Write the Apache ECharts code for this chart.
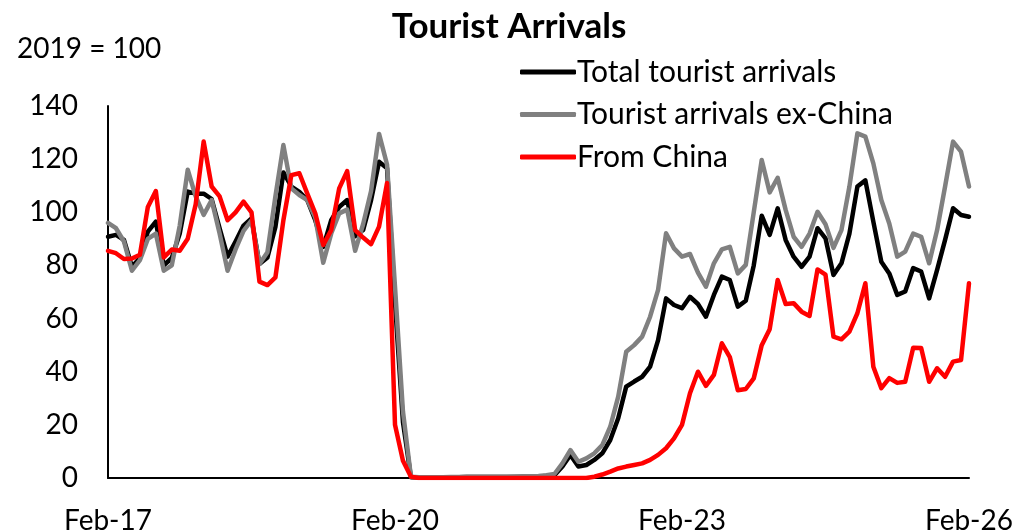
<!DOCTYPE html>
<html>
<head>
<meta charset="utf-8">
<script src="https://cdn.jsdelivr.net/npm/echarts@6/dist/echarts.min.js"></script>
<style>
html,body{margin:0;padding:0;background:#fff;}
#c{width:1015px;height:532px;}
</style>
</head>
<body>
<div id="c"></div>
<script>
// Monthly categories Feb-17 .. Feb-26
const monthNames = ['Jan','Feb','Mar','Apr','May','Jun','Jul','Aug','Sep','Oct','Nov','Dec'];
const categories = [];
for (let y = 2017, m = 1; y < 2026 || (y === 2026 && m <= 1); ) {
  categories.push(monthNames[m] + '-' + String(y).slice(2));
  m++; if (m === 12) { m = 0; y++; }
}

const totalArrivals = [
  90.8, 91.5, 89.6, 79.5, 82.8, 92.7, 96.5, 80, 82.8, 92, 107.8,
  107, 107, 105, 94, 83.3, 89, 95, 97.7, 80.5, 83, 94.5, 115,
  109.7, 107.7, 104.6, 97, 87, 97, 102, 104.6, 91, 93.3, 104.6, 119,
  116.6, 66, 21, 0.3, 0.2, 0.2, 0.2, 0.3, 0.3, 0.3, 0.4, 0.4,
  0.4, 0.4, 0.4, 0.4, 0.4, 0.5, 0.5, 0.6, 0.8, 1, 4.3, 8.7,
  4.3, 4.9, 6.8, 9.3, 14.3, 22.5, 34.4, 36.3, 38.1, 41.9, 51.9, 67.6,
  65.1, 63.9, 68.2, 65.5, 60.7, 68.9, 75.8, 74.5, 64.5, 66.7, 80, 98.7,
  91.5, 101.5, 89.6, 83.3, 79.5, 83.3, 94, 90.2, 76.4, 80.8, 92, 109.7,
  112, 96.5, 81.4, 77, 68.9, 70.2, 79, 77.7, 67.6, 78.3, 89.6, 101.5,
  99, 98.3
];

const exChinaArrivals = [
  96, 94, 89, 78, 82, 90, 92, 78, 80, 95, 116,
  106, 99, 104.6, 92, 78, 86, 93, 97, 80.5, 85, 106, 125.3,
  109, 106.5, 104.6, 98, 81, 92, 99.6, 101, 85.5, 95.5, 108, 129.5,
  118, 72, 25, 0.5, 0.3, 0.3, 0.3, 0.3, 0.4, 0.4, 0.5, 0.5,
  0.5, 0.5, 0.5, 0.5, 0.6, 0.6, 0.7, 0.8, 1.0, 1.5, 5.5, 10.5,
  6.1, 7.4, 9.3, 12.4, 19.3, 30.6, 47.5, 50, 53.2, 60.7, 70.8, 92.1,
  86.4, 83.3, 84.3, 77.3, 72, 80.8, 86, 87, 77, 80.2, 100, 119.7,
  107.5, 113, 100.9, 90.8, 87, 92, 100.2, 95.5, 86.6, 93.3, 109.7, 129.7,
  128.5, 118.4, 104.6, 95.8, 83.3, 85.2, 92, 90.8, 80.8, 93.3, 109.7, 126.6,
  122.8, 109.7
];

const chinaArrivals = [
  85.5, 84.6, 82.4, 82.6, 84, 102, 108, 83, 86, 85.5, 90,
  103, 126.6, 109.7, 106, 97, 100, 104, 100, 73.9, 72.6, 75.5, 97,
  114, 114.7, 107, 99.6, 87.7, 93.3, 109, 115.5, 93.3, 90.5, 88, 94.6,
  111, 20, 6.5, 0.5, 0, 0, 0, 0, 0, 0, 0, 0,
  0, 0, 0, 0, 0, 0, 0, 0, 0, 0, 0, 0,
  0, 0, 0.5, 1.3, 2.4, 3.6, 4.3, 4.9, 5.5, 6.8, 8.7, 11.2,
  14.9, 20, 31.9, 40, 34.7, 38.8, 50.7, 45.5, 33, 33.5, 37.5, 50,
  56, 74.5, 65.5, 65.8, 62.6, 61, 78.5, 76.5, 53.2, 52.2, 55.1, 62,
  73.3, 41.9, 33.8, 37.6, 35.8, 36.2, 49, 48.9, 36.2, 41.3, 38.1, 43.8,
  44.4, 73.3
];

const seriesNames = ['Total tourist arrivals', 'Tourist arrivals ex-China', 'From China'];
const titleText = 'Tourist Arrivals';
const unitText = '2019 = 100';

const FONT = 'Lato, "Open Sans", sans-serif';
const chart = echarts.init(document.getElementById('c'), null, {renderer: 'canvas'});

function lineSeries(name, data, color) {
  return {
    name: name, type: 'line', data: data, showSymbol: false, symbol: 'none',
    lineStyle: {color: color, width: 4.5, cap: 'round', join: 'round'},
    itemStyle: {color: color},
    animation: false
  };
}

chart.setOption({
  animation: false,
  backgroundColor: '#ffffff',
  title: [
    {text: titleText, left: 504, top: 4, textAlign: 'center',
     textStyle: {fontFamily: FONT, fontSize: 35, fontWeight: 'bold', color: '#000'}},
    {text: unitText, left: 12, top: 30,
     textStyle: {fontFamily: FONT, fontSize: 28, fontWeight: 'normal', color: '#000'}}
  ],
  legend: {
    orient: 'vertical', left: 515, top: 52,
    icon: 'roundRect',
    itemWidth: 56, itemHeight: 5, itemGap: 12.5,
    textStyle: {fontFamily: FONT, fontSize: 30, lineHeight: 30, color: '#000', padding: [0,0,0,-4]},
    data: seriesNames.map(function(n){ return {name: n}; })
  },
  grid: {left: 108, right: 46, top: 106, bottom: 54, containLabel: false, outerBoundsMode: 'none'},
  xAxis: {
    type: 'category', data: categories, boundaryGap: false,
    axisLine: {lineStyle: {color: '#000', width: 2}},
    axisTick: {show: false},
    axisLabel: {interval: 35, margin: 29, fontFamily: FONT, fontSize: 28, color: '#000'},
    splitLine: {show: false}
  },
  yAxis: {
    type: 'value', min: 0, max: 140, interval: 20,
    axisLine: {show: true, lineStyle: {color: '#000', width: 2}},
    axisTick: {show: false},
    axisLabel: {margin: 30, fontFamily: FONT, fontSize: 28, color: '#000'},
    splitLine: {show: false}
  },
  series: [
    lineSeries(seriesNames[0], totalArrivals, '#000000'),
    lineSeries(seriesNames[1], exChinaArrivals, '#808080'),
    lineSeries(seriesNames[2], chinaArrivals, '#ff0000')
  ]
});
</script>
</body>
</html>
